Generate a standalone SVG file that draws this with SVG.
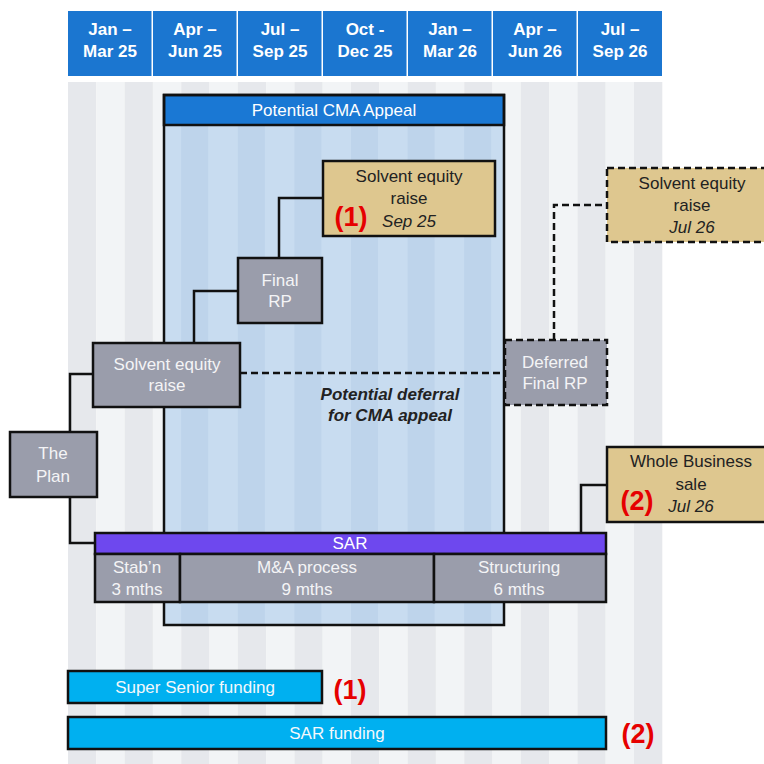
<svg xmlns="http://www.w3.org/2000/svg" width="764" height="764" viewBox="0 0 764 764">
  <defs>
    <style>
      .hdr { fill: #1b76d0; }
      .hdrt { font-family: "Liberation Sans", Arial, sans-serif; font-size: 17px; font-weight: bold; fill: #ffffff; text-anchor: middle; }
      .t { font-family: "Liberation Sans", Arial, sans-serif; font-size: 17px; text-anchor: middle; }
      .w { fill: #f4f4f6; }
      .d { fill: #222222; }
      .it { font-style: italic; }
      .red { font-family: "Liberation Sans", Arial, sans-serif; font-size: 27px; font-weight: bold; fill: #e60000; text-anchor: middle; }
      .node { fill: #9a9dab; stroke: #111; stroke-width: 2.5; }
      .tan { fill: #dec78f; stroke: #111; stroke-width: 2.5; }
      .dash { stroke-dasharray: 7 4; }
      .conn { fill: none; stroke: #111; stroke-width: 2.5; }
      .bar { fill: #00b0f0; stroke: #111; stroke-width: 2.5; }
      .gs { fill: #e6e8ec; }
      .ls { fill: #f2f4f6; }
      .bs { fill: #bed4eb; }
    </style>
  </defs>

  <!-- month stripes -->
  <g id="stripes">
    <rect class="gs" x="68" y="82" width="28.3" height="682"/>
    <rect class="ls" x="96.3" y="82" width="28.3" height="682"/>
    <rect class="gs" x="124.6" y="82" width="28.3" height="682"/>
    <rect class="ls" x="152.9" y="82" width="28.3" height="682"/>
    <rect class="gs" x="181.2" y="82" width="28.3" height="682"/>
    <rect class="ls" x="209.5" y="82" width="28.3" height="682"/>
    <rect class="gs" x="237.8" y="82" width="28.3" height="682"/>
    <rect class="ls" x="266.1" y="82" width="28.3" height="682"/>
    <rect class="gs" x="294.4" y="82" width="28.3" height="682"/>
    <rect class="ls" x="322.7" y="82" width="28.3" height="682"/>
    <rect class="gs" x="351" y="82" width="28.3" height="682"/>
    <rect class="ls" x="379.3" y="82" width="28.3" height="682"/>
    <rect class="gs" x="407.6" y="82" width="28.3" height="682"/>
    <rect class="ls" x="435.9" y="82" width="28.3" height="682"/>
    <rect class="gs" x="464.2" y="82" width="28.3" height="682"/>
    <rect class="ls" x="492.5" y="82" width="28.3" height="682"/>
    <rect class="gs" x="520.8" y="82" width="28.3" height="682"/>
    <rect class="ls" x="549.1" y="82" width="28.3" height="682"/>
    <rect class="gs" x="577.4" y="82" width="28.3" height="682"/>
    <rect class="ls" x="605.7" y="82" width="28.3" height="682"/>
    <rect class="gs" x="634" y="82" width="28.3" height="682"/>
  </g>

  <!-- quarter headers -->
  <g id="header">
    <rect class="hdr" x="68" y="11" width="83.5" height="65"/>
    <rect class="hdr" x="153" y="11" width="83.5" height="65"/>
    <rect class="hdr" x="238" y="11" width="83.5" height="65"/>
    <rect class="hdr" x="323" y="11" width="83.5" height="65"/>
    <rect class="hdr" x="408" y="11" width="83.5" height="65"/>
    <rect class="hdr" x="493" y="11" width="83.5" height="65"/>
    <rect class="hdr" x="578" y="11" width="84" height="65"/>
    <text class="hdrt" x="110" y="35">Jan –</text><text class="hdrt" x="110" y="57">Mar 25</text>
    <text class="hdrt" x="195" y="35">Apr –</text><text class="hdrt" x="195" y="57">Jun 25</text>
    <text class="hdrt" x="280" y="35">Jul –</text><text class="hdrt" x="280" y="57">Sep 25</text>
    <text class="hdrt" x="365" y="35">Oct -</text><text class="hdrt" x="365" y="57">Dec 25</text>
    <text class="hdrt" x="450" y="35">Jan –</text><text class="hdrt" x="450" y="57">Mar 26</text>
    <text class="hdrt" x="535" y="35">Apr –</text><text class="hdrt" x="535" y="57">Jun 26</text>
    <text class="hdrt" x="620" y="35">Jul –</text><text class="hdrt" x="620" y="57">Sep 26</text>
  </g>

  <!-- potential CMA appeal window -->
  <g id="cma-appeal">
    <rect x="164" y="95" width="340" height="530" fill="#c8dcf0"/>
    <rect class="bs" x="181.2" y="125" width="27" height="500"/>
    <rect class="bs" x="237.8" y="125" width="27" height="500"/>
    <rect class="bs" x="294.4" y="125" width="27" height="500"/>
    <rect class="bs" x="351" y="125" width="27" height="500"/>
    <rect class="bs" x="407.6" y="125" width="27" height="500"/>
    <rect class="bs" x="464.2" y="125" width="27" height="500"/>
    <rect x="164" y="95" width="340" height="30" fill="#1a78d4" stroke="#111" stroke-width="2.5"/>
    <rect x="164" y="95" width="340" height="530" fill="none" stroke="#111" stroke-width="2.5"/>
    <text class="t" x="334" y="116" fill="#ffffff">Potential CMA Appeal</text>
    <text class="t d" x="390" y="400" font-weight="bold" font-style="italic" font-size="16">Potential deferral</text>
    <text class="t d" x="390" y="421" font-weight="bold" font-style="italic" font-size="16">for CMA appeal</text>
  </g>

  <!-- connectors -->
  <g id="connectors">
    <polyline class="conn" points="323,198 279,198 279,258"/>
    <polyline class="conn" points="238,291 194,291 194,343"/>
    <polyline class="conn" points="93,374 70,374 70,432"/>
    <polyline class="conn" points="70,497 70,543 95,543"/>
    <polyline class="conn dash" points="240,373 505,373"/>
    <polyline class="conn dash" points="554,340 554,205 607,205"/>
    <polyline class="conn" points="607,485 581,485 581,533"/>
  </g>

  <g id="equity-sep25">
    <rect class="tan" x="323" y="161" width="172" height="75"/>
    <text class="t d" x="409" y="182">Solvent equity</text>
    <text class="t d" x="409" y="204">raise</text>
    <text class="t d it" x="409" y="227">Sep 25</text>
    <text class="red" x="351" y="226">(1)</text>
  </g>

  <g id="final-rp">
    <rect class="node" x="238" y="258" width="84" height="65"/>
    <text class="t w" x="280" y="286">Final</text>
    <text class="t w" x="280" y="307">RP</text>
  </g>

  <g id="equity-raise">
    <rect class="node" x="93" y="343" width="147" height="64"/>
    <text class="t w" x="167" y="370">Solvent equity</text>
    <text class="t w" x="167" y="391">raise</text>
  </g>

  <g id="the-plan">
    <rect class="node" x="10" y="432" width="87" height="65"/>
    <text class="t w" x="53" y="459">The</text>
    <text class="t w" x="53" y="482">Plan</text>
  </g>

  <g id="deferred-rp">
    <rect class="node dash" x="505" y="340" width="102" height="65"/>
    <text class="t w" x="555" y="368">Deferred</text>
    <text class="t w" x="555" y="389">Final RP</text>
  </g>

  <g id="equity-jul26">
    <rect class="tan dash" x="607" y="168" width="172" height="74"/>
    <text class="t d" x="692" y="189">Solvent equity</text>
    <text class="t d" x="692" y="211">raise</text>
    <text class="t d it" x="692" y="233">Jul 26</text>
  </g>

  <g id="whole-business-sale">
    <rect class="tan" x="607" y="447" width="172" height="75"/>
    <text class="t d" x="691" y="467">Whole Business</text>
    <text class="t d" x="691" y="490">sale</text>
    <text class="t d it" x="691" y="512">Jul 26</text>
    <text class="red" x="637" y="510">(2)</text>
  </g>

  <g id="sar">
    <rect x="95" y="533" width="511" height="21" fill="#6e48ee" stroke="#111" stroke-width="2.5"/>
    <text class="t" x="350" y="549" fill="#ffffff" font-size="16">SAR</text>
    <rect class="node" x="95" y="554" width="85" height="48"/>
    <rect class="node" x="180" y="554" width="254" height="48"/>
    <rect class="node" x="434" y="554" width="172" height="48"/>
    <text class="t w" x="137" y="573">Stab’n</text>
    <text class="t w" x="137" y="595">3 mths</text>
    <text class="t w" x="307" y="573">M&amp;A process</text>
    <text class="t w" x="307" y="595">9 mths</text>
    <text class="t w" x="519" y="573">Structuring</text>
    <text class="t w" x="519" y="595">6 mths</text>
  </g>

  <g id="super-senior-funding">
    <rect class="bar" x="68" y="671" width="254" height="32"/>
    <text class="t" x="195" y="693" fill="#f4f8fb" font-size="16">Super Senior funding</text>
    <text class="red" x="350" y="699">(1)</text>
  </g>

  <g id="sar-funding">
    <rect class="bar" x="68" y="717" width="538" height="32"/>
    <text class="t" x="337" y="739" fill="#f4f8fb" font-size="16">SAR funding</text>
    <text class="red" x="638" y="743">(2)</text>
  </g>
</svg>
